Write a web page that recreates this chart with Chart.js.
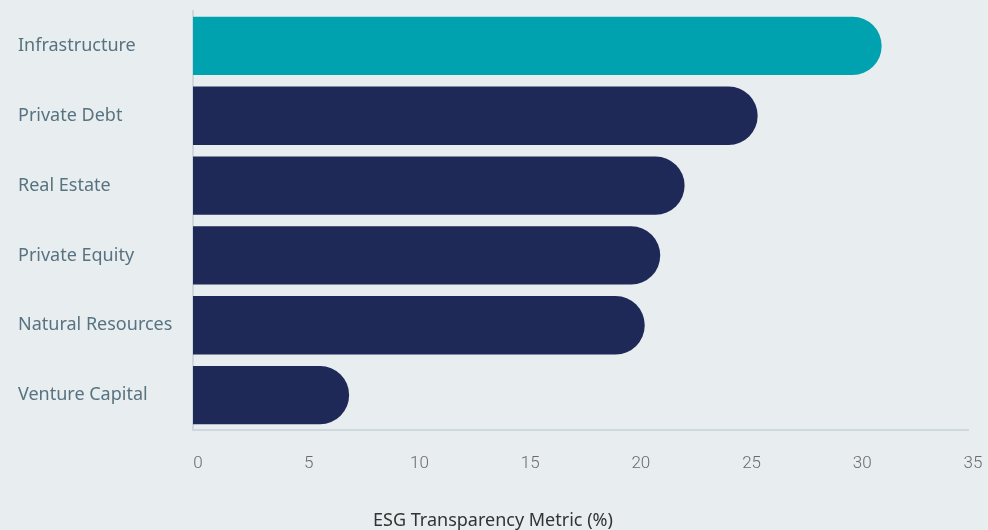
<!DOCTYPE html>
<html>
<head>
<meta charset="utf-8">
<script src="https://cdn.jsdelivr.net/npm/chart.js@4/dist/chart.umd.min.js"></script>
<style>
  html, body { margin: 0; padding: 0; background: #e8edf0; }
  #wrap { width: 988px; height: 530px; }
</style>
</head>
<body>
<div id="wrap"><canvas id="esgChart" width="988" height="530"></canvas></div>
<script>
var categories = ["Infrastructure", "Private Debt", "Real Estate", "Private Equity", "Natural Resources", "Venture Capital"];
var esg_values = [31.1, 25.5, 22.2, 21.1, 20.4, 7.05];
var bar_colors = ["#00a2af", "#1f2958", "#1f2958", "#1f2958", "#1f2958", "#1f2958"];
var x_title = "ESG Transparency Metric (%)";

var ctx = document.getElementById("esgChart");
var esgChart = new Chart(ctx, {
  type: 'bar',
  data: {
    labels: categories,
    datasets: [
      {
        data: esg_values,
        backgroundColor: bar_colors,
        borderRadius: 29,
        borderSkipped: 'start',
        barPercentage: 0.835,
        categoryPercentage: 1
      }
    ]
  },
  options: {
    indexAxis: 'y',
    responsive: false,
    animation: false,
    layout: { padding: { left: 18, top: 11, right: 20, bottom: 0 } },
    plugins: {
      legend: { display: false },
      tooltip: { enabled: false },
      // axis title is centred on the whole page, so use the title plugin
      title: {
        display: true,
        position: 'bottom',
        text: x_title,
        color: "#333333",
        padding: { top: 12, bottom: -2 },
        font: { family: "Noto Sans", size: 18, weight: 'normal' }
      }
    },
    scales: {
      x: {
        min: 0,
        max: 35,
        ticks: {
          stepSize: 5,
          padding: 24,
          labelOffset: 5,
          color: "#6b6b6b",
          font: { family: "Roboto", size: 17, weight: 300 }
        },
        grid: { display: false, drawTicks: false },
        border: { display: true, color: "#cdd9dc", width: 2 },
        // tick padding would otherwise be added to the right overhang
        afterFit: function(scale) { scale.paddingRight = 0; scale.paddingLeft = 0; }
      },
      y: {
        ticks: {
          crossAlign: 'far',
          padding: 0,
          color: "#587380",
          font: { family: "Noto Sans", size: 18 }
        },
        grid: { display: false, drawTicks: false },
        border: { display: true, color: "#cdd9dc", width: 2 },
        afterFit: function(scale) { scale.width = 175; }
      }
    }
  }
});
</script>
</body>
</html>
